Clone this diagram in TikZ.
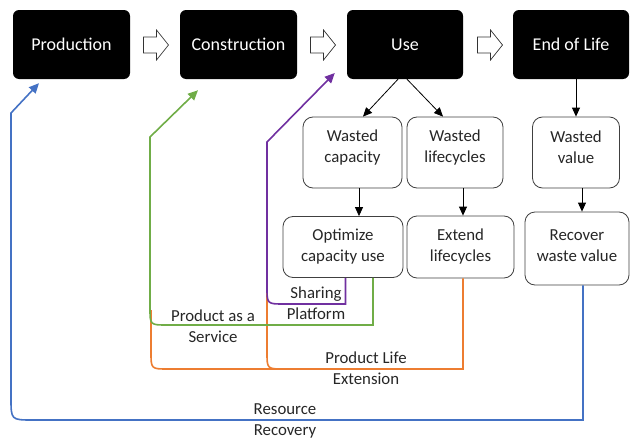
\documentclass[tikz,border=0pt]{standalone}
\usepackage{fontspec}
\setmainfont{Carlito}
\usetikzlibrary{arrows.meta}
\definecolor{cblue}{HTML}{4472C4}
\definecolor{cgreen}{HTML}{70AD47}
\definecolor{corange}{HTML}{ED7D31}
\definecolor{cpurple}{HTML}{7030A0}
\definecolor{bordergray}{HTML}{404040}
\definecolor{txtgray}{HTML}{262626}
\tikzset{
  blk/.style={fill=black, text=white, rounded corners=6pt, inner sep=0pt,
    minimum width=117pt, minimum height=69pt, font=\fontsize{18}{21}\selectfont},
  wbox/.style={draw=bordergray, line width=0.8pt, fill=white, text=txtgray, rounded corners=10pt,
    inner sep=0pt, align=center, font=\fontsize{16.8}{21}\selectfont},
  lbl/.style={text=txtgray, align=center, inner sep=0pt, font=\fontsize{16.8}{21}\selectfont},
  blkarrow/.style={line width=0.8pt, -{Triangle[length=9pt,width=8pt]}},
  conn/.style={line width=1.6pt, -{Triangle[length=10pt,width=9pt]}},
  plain/.style={line width=1.6pt},
  hollow/.style={draw=black!80, line width=0.7pt, fill=white},
  pics/harrow/.style={code={
    \draw[hollow] (0,-8) -- (13,-8) -- (13,-15) -- (25,0) -- (13,15) -- (13,8) -- (0,8) -- cycle;
  }}
}
\begin{document}
\begin{tikzpicture}[x=1pt,y=-1pt]
\useasboundingbox (0,0) rectangle (630,439);
% top row
\node[blk] (prod) at (71.5,44.5) {Production};
\node[blk] (cons) at (238.5,44.5) {Construction};
\node[blk, minimum width=116pt] (use) at (405,44.5) {Use};
\node[blk, minimum width=116pt] (eol) at (571,44.5) {End of Life};
\pic at (143.5,45) {harrow};
\pic at (310.5,45) {harrow};
\pic at (477.5,45) {harrow};
% second row
\node[wbox, minimum width=99pt, minimum height=71pt,
  label={[lbl,yshift=5pt]center:Wasted\\capacity}] (wcap) at (352.5,152.5) {};
\node[wbox, minimum width=96pt, minimum height=71pt,
  label={[lbl,yshift=5pt]center:Wasted\\lifecycles}] (wlife) at (455,152.5) {};
\node[wbox, minimum width=87pt, minimum height=71pt,
  label={[lbl,yshift=5pt]center:Wasted\\value}] (wval) at (576,152.5) {};
% third row
\node[wbox, minimum width=120pt, minimum height=61pt] (opt) at (343,247) {Optimize\\capacity use};
\node[wbox, minimum width=107pt, minimum height=62pt] (ext) at (460.5,247) {Extend\\lifecycles};
\node[wbox, minimum width=104pt, minimum height=73pt,
  label={[lbl,yshift=3pt]center:Recover\\waste value}] (rec) at (577,248.5) {};
% black arrows
\draw[blkarrow] ([xshift=-7pt]use.south) -- ([xshift=10.5pt]wcap.north);
\draw[blkarrow] ([xshift=2pt]use.south) -- ([xshift=-12pt]wlife.north);
\draw[blkarrow] (eol.south -| wval.north) -- (wval.north);
\draw[blkarrow] ([xshift=6.5pt]wcap.south) -- ([xshift=16pt]opt.north);
\draw[blkarrow] ([xshift=8pt]wlife.south) -- ([xshift=2.5pt]ext.north);
\draw[blkarrow] ([xshift=6pt]wval.south) -- ([xshift=5pt]rec.north);
% free ends
\coordinate (tipP) at ([xshift=-32.5pt,yshift=-4pt]prod.south);
\coordinate (tipC) at ([xshift=-40.5pt,yshift=-11pt]cons.south);
\coordinate (tipU) at ([xshift=-12pt,yshift=-28.5pt]use.west);
% orange
\draw[plain, corange] ([xshift=2.5pt]ext.south) -- (463,369) -- (168,369) .. controls (151,369) .. (151,352) -- (151,310);
\draw[plain, corange] (284,369) .. controls (267,369) .. (267,352) -- (267,285);
% blue
\draw[conn, cblue] ([xshift=6pt]rec.south) -- (583,420) -- (33,420) .. controls (11,420) .. (11,398) -- (11,113) -- (tipP);
% green
\draw[conn, cgreen] ([xshift=30pt]opt.south) -- (373,325) -- (167,325) .. controls (150,325) .. (150,308) -- (150,137) -- (tipC);
% purple
\draw[conn, cpurple] ([xshift=2.5pt]opt.south) -- (345.5,304) -- (284,304) .. controls (267,304) .. (267,287) -- (267,142) -- (tipU);
% labels
\node[lbl] (lpaas) at (213,326.5) {Product as a\\Service};
\node[lbl] (lshare) at (316,303.5) {Sharing\\Platform};
\node[lbl] (lple) at (366,368.5) {Product Life\\Extension};
\node[lbl] (lrr) at (285,420.5) {Resource\\Recovery};
\end{tikzpicture}
\end{document}
